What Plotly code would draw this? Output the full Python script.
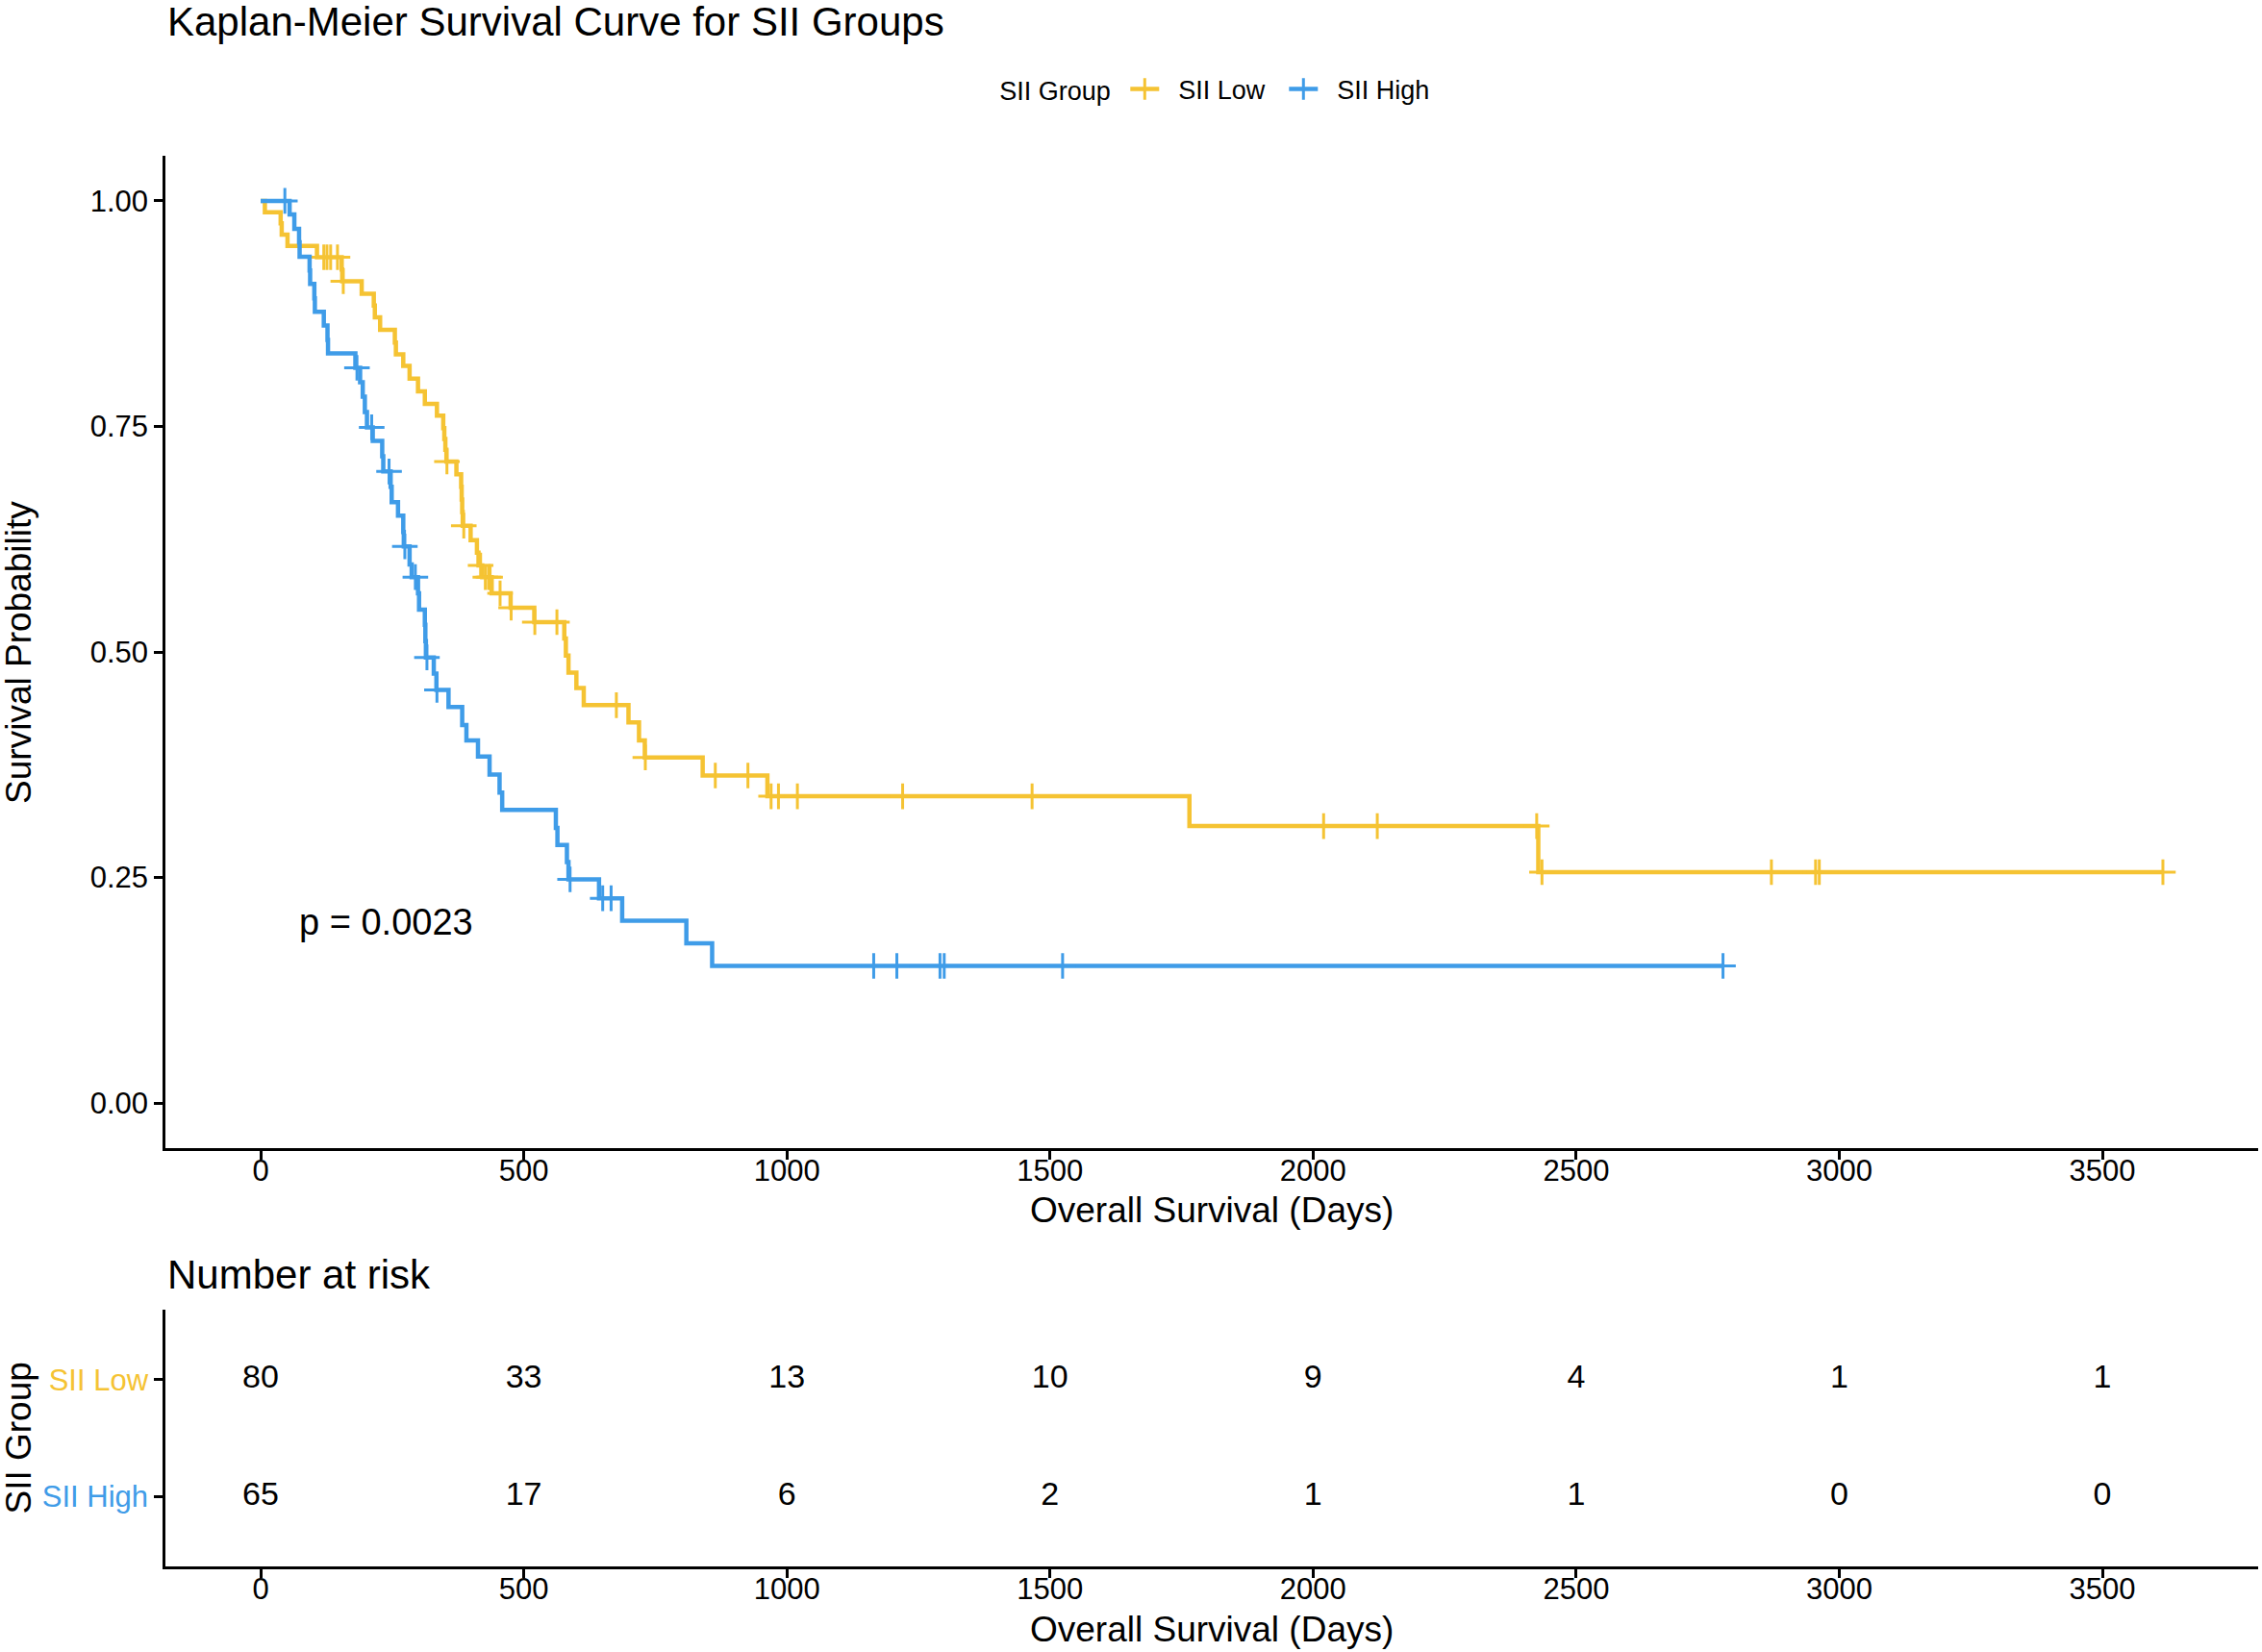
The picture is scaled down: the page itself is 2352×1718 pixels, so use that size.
import plotly.graph_objects as go

# Kaplan-Meier steps (days, survival after the step)
low_time = [0, 8, 38, 40, 51, 107, 154, 155, 192, 215, 217, 227, 255, 257, 271, 283,
            299, 312, 335, 347, 349, 351, 353, 372, 381, 382, 383, 384, 399, 411, 414,
            421, 439, 475, 520, 577, 580, 585, 600, 614, 699, 719, 730, 840, 963, 1765,
            2428, 3615]
low_surv = [1.0, 0.9875, 0.975, 0.9625, 0.95, 0.9375, 0.924, 0.911, 0.897, 0.884, 0.871,
            0.857, 0.843, 0.830, 0.817, 0.803, 0.789, 0.775, 0.762, 0.748, 0.736, 0.724,
            0.711, 0.697, 0.683, 0.669, 0.655, 0.640, 0.624, 0.610, 0.596, 0.583, 0.565,
            0.549, 0.533, 0.515, 0.496, 0.477, 0.460, 0.441, 0.422, 0.402, 0.383, 0.363,
            0.340, 0.307, 0.256, 0.256]
low_censor = [120, 126, 133, 146, 157, 354, 386, 418, 427, 433, 436, 455, 476, 521, 563,
              676, 731, 864, 926, 970, 984, 1020, 1220, 1466, 2020, 2122, 2425, 2435,
              2871, 2955, 2962, 3615]

high_time = [0, 55, 64, 73, 74, 93, 94, 102, 103, 120, 127, 128, 180, 189, 194, 198, 202,
             213, 231, 233, 247, 249, 261, 271, 272, 283, 287, 299, 301, 312, 313, 314,
             329, 334, 357, 383, 391, 413, 435, 454, 459, 561, 564, 582, 585, 643, 687,
             809, 858, 2779]
high_surv = [1.0, 0.985, 0.969, 0.954, 0.938, 0.923, 0.908, 0.892, 0.877, 0.862, 0.846,
             0.831, 0.815, 0.799, 0.783, 0.766, 0.749, 0.734, 0.717, 0.700, 0.683, 0.666,
             0.651, 0.633, 0.617, 0.597, 0.583, 0.565, 0.547, 0.530, 0.512, 0.494, 0.476,
             0.458, 0.439, 0.419, 0.402, 0.384, 0.364, 0.344, 0.325, 0.305, 0.286, 0.267,
             0.248, 0.227, 0.202, 0.177, 0.152, 0.152]
high_censor = [46, 183, 211, 244, 274, 294, 316, 335, 588, 650, 666, 1165, 1209, 1291,
               1299, 1524, 2779]

risk_times = [0, 500, 1000, 1500, 2000, 2500, 3000, 3500]
risk_low = [80, 33, 13, 10, 9, 4, 1, 1]
risk_high = [65, 17, 6, 2, 1, 1, 0, 0]

groups = ["SII Low", "SII High"]
colors = ["#F5C333", "#3F9CE8"]
p_text = "p = 0.0023"

FONT = "Liberation Sans, Arial, sans-serif"


def surv_at(times, surv, t):
    s = surv[0]
    for ti, si in zip(times, surv):
        if ti <= t:
            s = si
    return s


fig = go.Figure()

series = [(low_time, low_surv, low_censor), (high_time, high_surv, high_censor)]
for name, color, (t, s, c) in zip(groups, colors, series):
    fig.add_trace(go.Scatter(
        x=t, y=s, mode="lines", line=dict(color=color, width=4.5, shape="hv"),
        showlegend=False, hoverinfo="skip", xaxis="x", yaxis="y"))
    fig.add_trace(go.Scatter(
        x=c, y=[surv_at(t, s, ci) for ci in c], mode="markers",
        marker=dict(symbol="cross-thin", size=19, line=dict(color=color, width=3)),
        showlegend=False, hoverinfo="skip", xaxis="x", yaxis="y"))
    # legend entry: line with a censor cross
    fig.add_trace(go.Scatter(
        x=[None], y=[None], mode="lines+markers", name="\u00a0\u00a0" + name,
        line=dict(color=color, width=4.5),
        marker=dict(symbol="cross-thin", size=19, line=dict(color=color, width=3)),
        xaxis="x", yaxis="y"))

# number at risk table
for ypos, counts in zip([2, 1], [risk_low, risk_high]):
    fig.add_trace(go.Scatter(
        x=risk_times, y=[ypos] * len(risk_times), mode="text",
        text=[str(v) for v in counts], textposition="middle center",
        textfont=dict(size=34, color="black", family=FONT),
        showlegend=False, hoverinfo="skip", xaxis="x2", yaxis="y2"))

axis_common = dict(
    showline=True, linecolor="black", linewidth=2.5, mirror=False,
    ticks="outside", ticklen=9, tickwidth=2.5, tickcolor="black",
    showgrid=False, zeroline=False, automargin=False,
    tickfont=dict(size=31, color="black", family=FONT),
)

x_dom = [172 / 2352, 2348 / 2352]

fig.update_layout(
    width=2352, height=1718,
    margin=dict(l=0, r=0, t=0, b=0),
    paper_bgcolor="white", plot_bgcolor="white",
    font=dict(family=FONT, color="black"),
    xaxis=dict(domain=x_dom, range=[-181, 3796], anchor="y", ticklabelstandoff=-15,
               tickvals=risk_times, **axis_common),
    yaxis=dict(domain=[0.305, 0.9057], range=[-0.05, 1.05], anchor="x",
               tickvals=[0, 0.25, 0.5, 0.75, 1.0], tickformat=".2f", **axis_common),
    xaxis2=dict(domain=x_dom, range=[-181, 3796], anchor="y2", ticklabelstandoff=-15,
                tickvals=risk_times, **axis_common),
    yaxis2=dict(domain=[0.0518, 0.2072], range=[0.4, 2.6], anchor="x2",
                tickvals=[2, 1],
                ticktext=[f'<span style="color:{colors[0]}">{groups[0]}</span>',
                          f'<span style="color:{colors[1]}">{groups[1]}</span>'],
                **axis_common),
    legend=dict(orientation="h", x=0.441, y=0.9459, xanchor="left", yanchor="middle",
                title=dict(text="SII Group\u00a0", font=dict(size=27, color="black")),
                font=dict(size=27, color="black", family=FONT),
                entrywidth=120, bgcolor="rgba(0,0,0,0)"),
    showlegend=True,
)

annots = [
    dict(text="Kaplan-Meier Survival Curve for SII Groups", x=172 / 2352, y=0.987,
         xanchor="left", yanchor="middle", font=dict(size=42)),
    dict(text="Number at risk", x=172 / 2352, y=0.2282,
         xanchor="left", yanchor="middle", font=dict(size=42)),
    dict(text="Overall Survival (Days)", x=0.5357, y=0.2675,
         xanchor="center", yanchor="middle", font=dict(size=37)),
    dict(text="Overall Survival (Days)", x=0.5357, y=0.0134,
         xanchor="center", yanchor="middle", font=dict(size=37)),
    dict(text="Survival Probability", x=0.0085, y=0.6054, textangle=-90,
         xanchor="center", yanchor="middle", font=dict(size=37)),
    dict(text="SII Group", x=0.0085, y=0.1295, textangle=-90,
         xanchor="center", yanchor="middle", font=dict(size=37)),
]
for a in annots:
    a.update(xref="paper", yref="paper", showarrow=False)
    a["font"].update(color="black", family=FONT)
    fig.add_annotation(**a)

fig.add_annotation(text=p_text, x=70, y=0.2, xref="x", yref="y", xanchor="left",
                   yanchor="middle", showarrow=False,
                   font=dict(size=38, color="black", family=FONT))

fig.write_html("out.html", config={"displayModeBar": False},
               post_script="document.body.style.margin='0';"
                           "document.body.style.overflow='hidden';")
